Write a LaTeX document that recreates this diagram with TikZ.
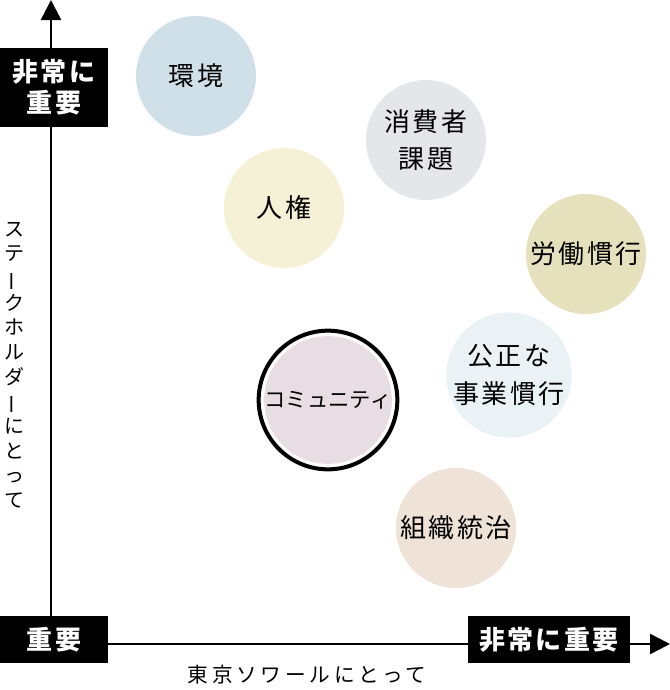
\documentclass[tikz,border=0pt]{standalone}
\usepackage{fontspec}
\setmainfont{Noto Sans CJK JP}[LetterSpace=8]
\usetikzlibrary{arrows.meta}
\definecolor{kankyo}{HTML}{CFE0E8}
\definecolor{shohisha}{HTML}{E4E6EA}
\definecolor{jinken}{HTML}{F4F1D6}
\definecolor{rodo}{HTML}{E6E1BD}
\definecolor{community}{HTML}{E8DDE3}
\definecolor{kosei}{HTML}{EBF2F5}
\definecolor{soshiki}{HTML}{EEE3D6}
\newcommand{\tatebar}{\rotatebox[origin=c]{90}{ー}}
\tikzstyle{issue}=[circle, minimum size=90pt, inner sep=0pt, align=center, font=\fontsize{19.5}{28}\selectfont]
\tikzstyle{tag}=[fill=black, text=white, inner sep=0pt, align=center, font=\bfseries\fontsize{19.5}{23}\selectfont]
\tikzstyle{axis}=[line width=1.9pt, -{Triangle[length=15pt,width=15pt]}]

\begin{document}
\begin{tikzpicture}[x=0.75pt, y=-0.75pt]
    \useasboundingbox (0,0) rectangle (670,690);
    % axes
    \coordinate (O) at (51,644);
    \coordinate (ytip) at (51,0);
    \coordinate (xtip) at (670,644);
    \foreach \to in {ytip, xtip}
    \draw[axis] (O) -- (\to);
    % axis tags
    \node[tag, minimum width=81pt, minimum height=59.25pt] (yhigh) at (54,87.5) {非常に\\重要};
    \node[tag, minimum width=81pt, minimum height=35.25pt] (low) at (54,639.5) {重要};
    \node[tag, minimum width=121.5pt, minimum height=35.25pt] (xhigh) at (549,639.5) {非常に重要};
    \node[font=\fontsize{15}{18.5}\selectfont\addfontfeature{LetterSpace=0}, align=center, inner sep=0pt] (ylabel) at (15,365)
      {ス\\テ\\\tatebar\\ク\\ホ\\ル\\ダ\\\tatebar\\に\\と\\っ\\て};
    \node[font=\fontsize{15.5}{18}\selectfont\addfontfeature{LetterSpace=18}, inner sep=0pt] (xlabel) at (307,675) {東京ソワールにとって};
    % issues
    \node[issue, fill=kankyo] (env) at (196,76) {環境};
    \node[issue, fill=shohisha] (consumer) at (426,140) {消費者\\課題};
    \node[issue, fill=jinken] (rights) at (284,208) {人権};
    \node[issue, fill=rodo] (labour) at (586,254) {労働慣行};
    \node[issue, fill=kosei] (fair) at (509,375) {公正な\\事業慣行};
    \node[issue, fill=soshiki] (gov) at (456,528) {組織統治};
    \node[circle, draw=black, line width=3pt, minimum size=104pt, inner sep=0pt] (ring) at (328,400) {};
    \node[issue, fill=community, font=\fontsize{16}{20}\selectfont\addfontfeature{LetterSpace=0}] (comm) at (328,400) {コミュニティ};
\end{tikzpicture}
\end{document}
